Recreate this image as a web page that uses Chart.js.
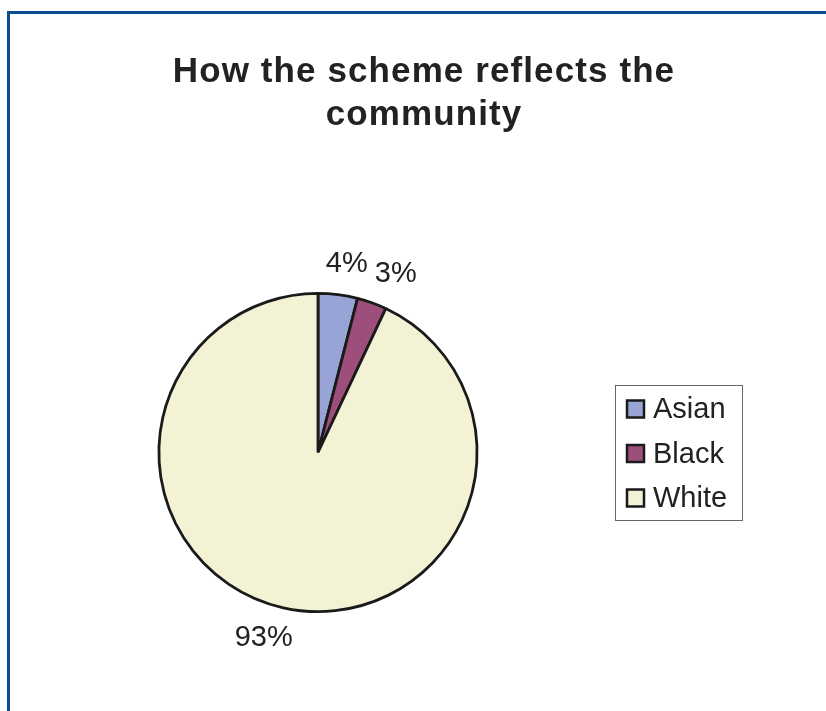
<!DOCTYPE html>
<html>
<head>
<meta charset="utf-8">
<script src="https://cdn.jsdelivr.net/npm/chart.js@4.4.0/dist/chart.umd.min.js"></script>
<style>
  body { margin: 0; background: #fff; overflow: hidden; }
  #frame {
    position: absolute; left: 7px; top: 11px; width: 900px; height: 800px;
    border-left: 3px solid #0b4f91; border-top: 3px solid #0b4f91;
  }
  #wrap { position: absolute; left: 0; top: 0; width: 826px; height: 711px; }
</style>
</head>
<body>
<div id="frame"></div>
<div id="wrap"><canvas id="pieChart"></canvas></div>
<script>
const categorias = ['Asian', 'Black', 'White'];
const valores = [4, 3, 93];
const cores = ['#99a4d6', '#9e4e7b', '#f3f2d5'];
const tituloLinhas = ['How the scheme reflects the', 'community'];

const fonte = '"Liberation Sans", Arial, sans-serif';

// titulo, rotulos de porcentagem e legenda com caixa
const desenhos = {
    id: 'desenhos',
    afterDraw(chart) {
        const ctx = chart.ctx;
        ctx.save();

        // titulo centralizado na largura toda
        ctx.fillStyle = '#222';
        ctx.font = 'bold 35px ' + fonte;
        ctx.letterSpacing = '1.1px';
        ctx.textAlign = 'center';
        ctx.textBaseline = 'alphabetic';
        tituloLinhas.forEach((linha, i) => {
            ctx.fillText(linha, 424, 82 + i * 43);
        });
        ctx.letterSpacing = '0px';

        // rotulos fora da pizza
        const meta = chart.getDatasetMeta(0);
        const total = valores.reduce((a, b) => a + b, 0);
        ctx.font = '29px ' + fonte;
        ctx.textBaseline = 'middle';
        meta.data.forEach((arc, i) => {
            const texto = Math.round(valores[i] / total * 100) + '%';
            const w = ctx.measureText(texto).width;
            const meio = (arc.startAngle + arc.endAngle) / 2;
            const ux = Math.cos(meio), uy = Math.sin(meio);
            const dist = arc.outerRadius + 20;
            const x = arc.x + ux * dist + ux * w * 1.2;
            const y = arc.y + uy * dist + uy * 11;
            ctx.fillText(texto, x, y);
        });

        // legenda
        ctx.strokeStyle = '#666';
        ctx.lineWidth = 1;
        ctx.strokeRect(615.5, 385.5, 127, 135);
        ctx.textAlign = 'left';
        categorias.forEach((nome, i) => {
            const cy = 409 + i * 44.5;
            ctx.fillStyle = cores[i];
            ctx.fillRect(627, cy - 8.5, 17, 17);
            ctx.strokeStyle = '#1a1a1a';
            ctx.lineWidth = 2.5;
            ctx.strokeRect(627, cy - 8.5, 17, 17);
            ctx.fillStyle = '#222';
            ctx.fillText(nome, 653, cy + 1);
        });
        ctx.restore();
    }
};

new Chart(document.getElementById('pieChart'), {
    type: 'pie',
    data: {
        labels: categorias,
        datasets: [{
            data: valores,
            backgroundColor: cores,
            borderColor: '#1a1a1a',
            borderWidth: 2.8
        }]
    },
    options: {
        responsive: true,
        maintainAspectRatio: false,
        animation: false,
        layout: {
            padding: { left: 157, right: 347, top: 292, bottom: 98 }
        },
        plugins: {
            legend: { display: false },
            tooltip: { enabled: false },
            title: { display: false }
        }
    },
    plugins: [desenhos]
});
</script>
</body>
</html>
